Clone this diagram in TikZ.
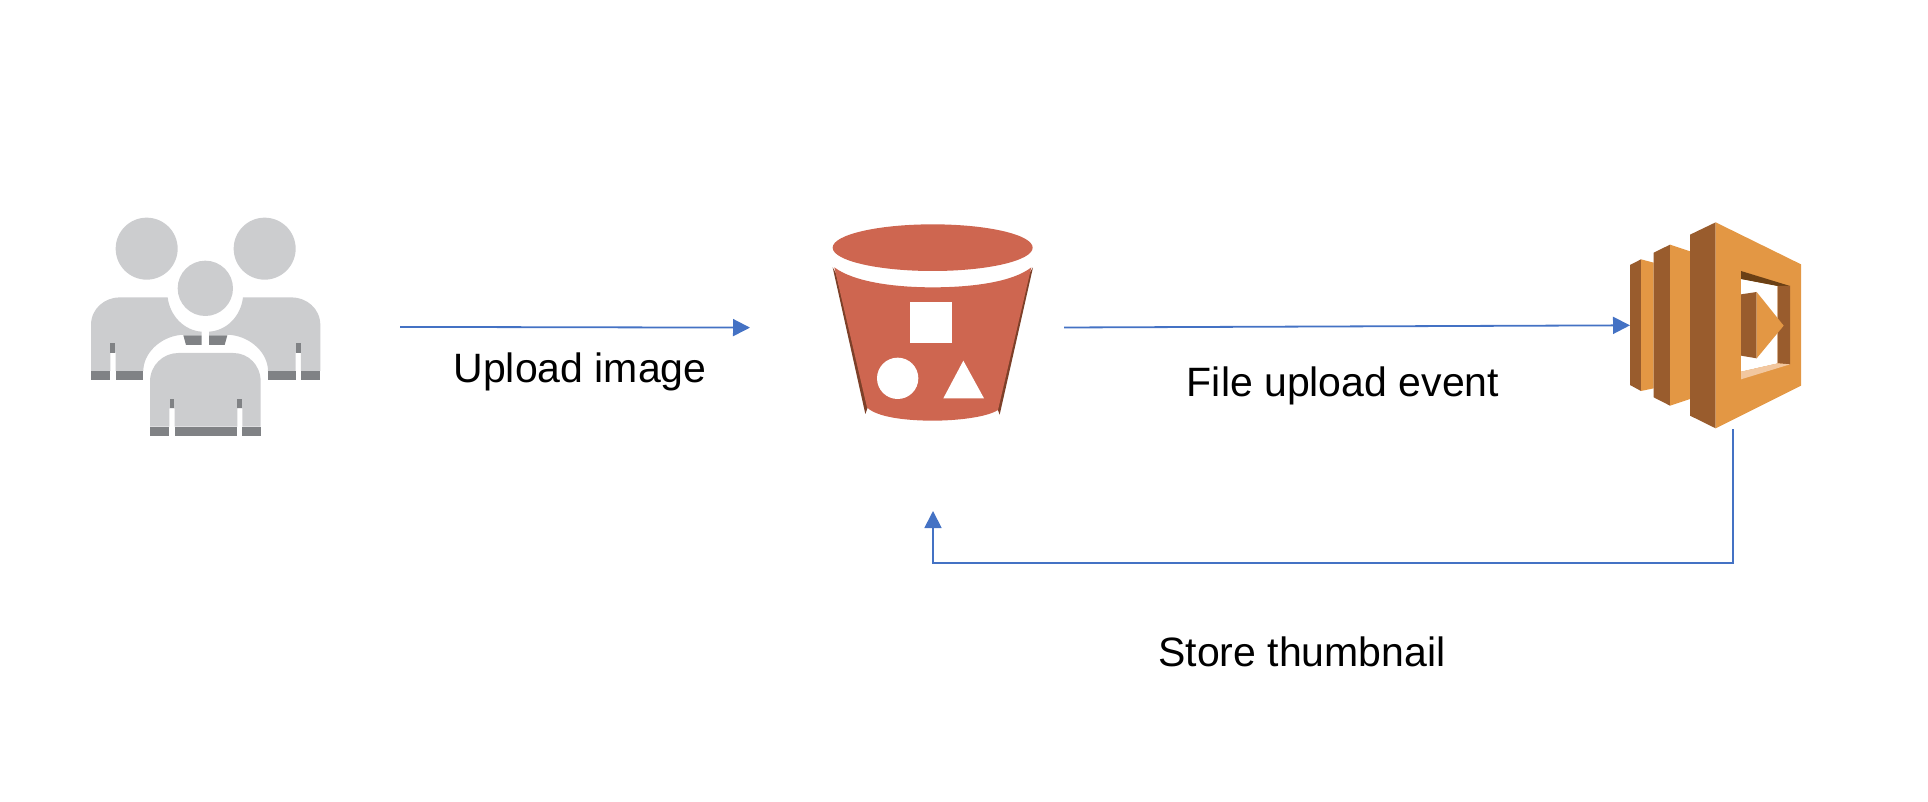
\documentclass[tikz,border=0pt]{standalone}
\usepackage{fontspec}
\setmainfont{Liberation Sans}
\usetikzlibrary{arrows.meta}
\definecolor{userlight}{HTML}{CCCDCF}
\definecolor{userdark}{HTML}{808285}
\definecolor{bucketred}{HTML}{CE6650}
\definecolor{bucketdark}{HTML}{7D4029}
\definecolor{lambdalight}{HTML}{E39744}
\definecolor{lambdadark}{HTML}{995C2D}
\definecolor{lambdadeep}{HTML}{6B4015}
\definecolor{lambdapale}{HTML}{F2C79F}
\definecolor{flowblue}{HTML}{4472C4}
\tikzset{
  iconbox/.style={inner sep=0pt, outer sep=0pt},
  flow/.style={draw=flowblue, line width=1.8pt, -{Triangle[length=17pt,width=17pt]}},
  caption/.style={anchor=base, inner sep=0pt, text=black, font=\fontsize{41}{48}\selectfont},
  icon/.style={shift={#1}, scale=1/3}
}
\begin{document}
\begin{tikzpicture}[x=1pt,y=-1pt]
            \useasboundingbox (0,0) rectangle (1928,802);

            % Boxes of the three icons
            \node (users) [iconbox, minimum width=230pt, minimum height=221pt] at (205,326.5) {};%
            \node (bucket) [iconbox, minimum width=202pt, minimum height=208pt] at (933,328) {};%
            \node (lambda) [iconbox, minimum width=172pt, minimum height=206pt] at (1716,325) {};%
            \coordinate (lambdaout) at (1733,429);%

            % Drawing the users
            \begin{scope}[icon={(70,200)}]
            \fill [userlight] (230,146) circle (93);%
            \fill [userlight] (584,146) circle (93);%
            \fill [userlight] (406,265) circle (83);%
            % left body
            \fill [userlight] (63,513) -- (63,375) .. controls (63,325) and (105,292) .. (150,292) -- (293,292)
                .. controls (300,350) and (345,392) .. (395,395) -- (395,405) -- (330,405)
                .. controls (270,412) and (220,460) .. (220,513) -- (137,513) -- (137,458) -- (121,458) -- (121,513) -- cycle;%
            \fill [userdark] (63,513) rectangle (121,540);%
            \fill [userdark] (137,513) rectangle (220,540);%
            \fill [userdark] (121,428) rectangle (135,458);%
            \fill [userdark] (340,406) -- (395,406) -- (395,435) -- (348,435) -- cycle;%
            % right body
            \fill [userlight] (751,513) -- (751,375) .. controls (751,325) and (709,292) .. (664,292) -- (519,292)
                .. controls (512,350) and (469,392) .. (417,395) -- (417,405) -- (484,405)
                .. controls (544,412) and (594,460) .. (594,513) -- (677,513) -- (677,458) -- (693,458) -- (693,513) -- cycle;%
            \fill [userdark] (751,513) rectangle (693,540);%
            \fill [userdark] (677,513) rectangle (594,540);%
            \fill [userdark] (693,428) rectangle (679,458);%
            \fill [userdark] (417,406) -- (472,406) -- (464,435) -- (417,435) -- cycle;%
            % front body
            \fill [userlight] (240,680) -- (240,545) .. controls (240,495) and (280,459) .. (325,459) -- (490,459)
                .. controls (535,459) and (572,495) .. (572,545) -- (572,680) -- (517,680) -- (517,625) -- (502,625)
                -- (502,680) -- (314,680) -- (314,625) -- (298,625) -- (298,680) -- cycle;%
            \fill [userdark] (240,680) rectangle (298,707);%
            \fill [userdark] (314,680) rectangle (502,707);%
            \fill [userdark] (517,680) rectangle (572,707);%
            \fill [userdark] (300,596) rectangle (313,625);%
            \fill [userdark] (502,596) rectangle (516,625);%
            \end{scope}

            % Drawing the bucket
            \begin{scope}[icon={(810,210)}]
            \fill [bucketdark] (68,172) -- (166,612) -- (174,590) -- (78,190) -- cycle;%
            \fill [bucketdark] (669,172) -- (569,614) -- (560,590) -- (658,190) -- cycle;%
            \fill [bucketred] (73,172) .. controls (130,215) and (250,232) .. (368,232)
                .. controls (490,232) and (610,215) .. (664,172) -- (564,600)
                .. controls (530,622) and (440,632) .. (368,632)
                .. controls (290,632) and (200,622) .. (171,592) -- cycle;%
            \fill [bucketred] (368,113) ellipse [x radius=300, y radius=70];%
            \fill [white] (300,276) rectangle (426,400);%
            \fill [white] (263,505) circle (62);%
            \fill [white] (460,452) -- (522,565) -- (400,565) -- cycle;%
            \end{scope}

            % Drawing the lambda
            \begin{scope}[icon={(1610,210)}]
            \fill [lambdadark] (60,165) -- (93,148) -- (93,543) -- (60,525) -- cycle;%
            \fill [lambdalight] (93,148) -- (131,158) -- (131,535) -- (93,543) -- cycle;%
            \fill [lambdadark] (131,128) -- (180,104) -- (180,587) -- (131,562) -- cycle;%
            \fill [lambdalight] (180,104) -- (240,124) -- (240,567) -- (180,587) -- cycle;%
            \fill [lambdadark] (240,74) -- (317,37) -- (317,655) -- (240,617) -- cycle;%
            \fill [lambdalight] (317,37) -- (573,163) -- (573,527) -- (317,655) -- cycle;%
            \fill [white] (393,207) -- (503,228) -- (503,460) -- (393,485) -- cycle;%
            \fill [lambdadeep] (393,183) -- (540,228) -- (503,228) -- (393,207) -- cycle;%
            \fill [lambdadark] (503,228) -- (540,228) -- (540,463) -- (503,460) -- cycle;%
            \fill [lambdapale] (393,485) -- (503,460) -- (540,463) -- (393,508) -- cycle;%
            \fill [lambdadark] (393,253) -- (440,246) -- (440,445) -- (393,437) -- cycle;%
            \fill [lambdalight] (440,246) -- (521,347) -- (440,445) -- cycle;%
            \end{scope}

            % Drawing the connectors
            \draw [flow, shorten <=80pt, shorten >=82pt] (users) -- (bucket);%
            \draw [flow, shorten <=30pt] (bucket) -- (lambda);%
            \draw [flow, shorten >=79pt] (lambdaout) -- ++(0,134) -| (bucket.south);%

            % Marking the captions
            \node (uploadtext) [caption] at (580,382) {Upload image};%
            \node (eventtext) [caption] at (1343,396) {File upload event};%
            \node (storetext) [caption] at (1302,666) {Store thumbnail};%
\end{tikzpicture}
\end{document}
